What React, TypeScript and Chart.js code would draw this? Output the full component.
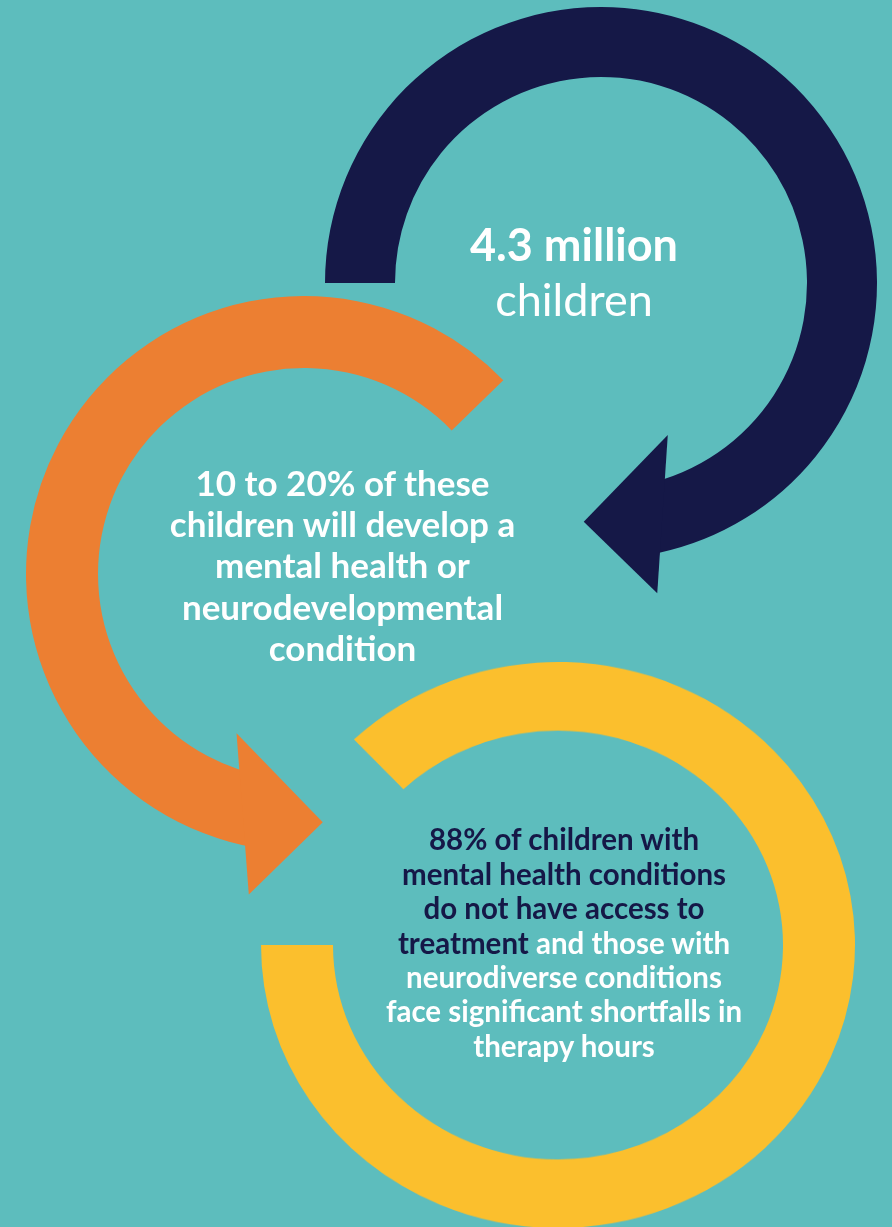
import React, { useEffect, useRef } from "react";
import { Chart, registerables } from "chart.js";

Chart.register(...registerables);

// ---- data ----
const ringLabels = ["4.3 million children", "10 to 20% develop a condition", "88% lack access to treatment"];
const ringSweeps = [258, 215.8, 313.4]; // degrees of each arc
const ringRotations = [270, 190, 316.6]; // start of each arc (deg, 0 = 12 o'clock)
const ringColors = ["#151847", "#EC7F32", "#FBBF2D"];

const navyLines = ["4.3 million", "children"];
const orangeLines = ["10 to 20% of these", "children will develop a", "mental health or", "neurodevelopmental", "condition"];
const yellowNavyLines = ["88% of children with", "mental health conditions", "do not have access to", "treatment"];
const yellowWhiteLines = [" and those with", "neurodiverse conditions", "face significant shortfalls in", "therapy hours"];

const BG = "#5DBDBD";
const NAVY = "#151847";
const FONT = 'Lato, "Open Sans", sans-serif';

type Pt = [number, number];
type ArrowOpts = { at: "start" | "end"; pts: Pt[]; color: string } | null;

const arrowPlugin = {
  id: "arrowHead",
  afterDatasetsDraw(chart: any, _args: any, opts: any) {
    if (!opts || !opts.pts) return;
    const arc: any = chart.getDatasetMeta(0).data[0];
    const { x, y, startAngle, endAngle, innerRadius, outerRadius } = arc.getProps(
      ["x", "y", "startAngle", "endAngle", "innerRadius", "outerRadius"],
      true
    );
    const th = opts.at === "end" ? endAngle : startAngle;
    const rm = (innerRadius + outerRadius) / 2;
    const n: Pt = [Math.cos(th), Math.sin(th)];
    const t: Pt = opts.at === "end" ? [-Math.sin(th), Math.cos(th)] : [Math.sin(th), -Math.cos(th)];
    const ax = x + rm * n[0];
    const ay = y + rm * n[1];
    const ctx = chart.ctx;
    ctx.save();
    ctx.beginPath();
    opts.pts.forEach((p: Pt, i: number) => {
      const px = ax + p[0] * t[0] + p[1] * n[0];
      const py = ay + p[0] * t[1] + p[1] * n[1];
      if (i === 0) ctx.moveTo(px, py);
      else ctx.lineTo(px, py);
    });
    ctx.closePath();
    ctx.fillStyle = opts.color;
    ctx.fill();
    ctx.restore();
  },
};

function Ring(props: {
  idx: number;
  cx: number;
  cy: number;
  outer: number;
  inner: number;
  scaleY?: number;
  arrow: ArrowOpts;
}) {
  const { idx, cx, cy, outer, inner, scaleY, arrow } = props;
  const ref = useRef<HTMLCanvasElement>(null);
  const pad = 60;
  const size = 2 * (outer + pad);
  useEffect(() => {
    const chart = new Chart(ref.current as HTMLCanvasElement, {
      type: "doughnut",
      data: {
        labels: [ringLabels[idx], ""],
        datasets: [
          {
            data: [ringSweeps[idx], 360 - ringSweeps[idx]],
            backgroundColor: [ringColors[idx], "rgba(0,0,0,0)"],
            borderWidth: 0,
            hoverBorderWidth: 0,
            hoverOffset: 0,
          } as any,
        ],
      },
      options: {
        responsive: true,
        maintainAspectRatio: false,
        animation: false,
        events: [],
        rotation: ringRotations[idx],
        circumference: 360,
        cutout: inner,
        layout: { padding: pad },
        plugins: {
          legend: { display: false },
          tooltip: { enabled: false },
          arrowHead: arrow as any,
        } as any,
      },
      plugins: [arrowPlugin],
    });
    return () => chart.destroy();
  }, []);
  return (
    <div
      style={{
        position: "absolute",
        left: cx - size / 2,
        top: cy - size / 2,
        width: size,
        height: size,
        transform: scaleY ? `scaleY(${scaleY})` : undefined,
        transformOrigin: "50% 50%",
      }}
    >
      <canvas ref={ref} />
    </div>
  );
}

function TextBlock(props: {
  cx: number;
  top: number;
  size: number;
  lh: number;
  weight: number;
  children: React.ReactNode;
}) {
  const { cx, top, size, lh, weight, children } = props;
  return (
    <div
      style={{
        position: "absolute",
        left: cx - 300,
        width: 600,
        top,
        textAlign: "center",
        fontFamily: FONT,
        fontSize: size,
        lineHeight: `${lh}px`,
        fontWeight: weight,
        color: "#fff",
        whiteSpace: "nowrap",
        zIndex: 5,
      }}
    >
      {children}
    </div>
  );
}

export default function App() {
  return (
    <div
      style={{
        position: "absolute",
        left: 0,
        top: 0,
        width: 892,
        height: 1227,
        overflow: "hidden",
        background: BG,
      }}
    >
      <Ring
        idx={0}
        cx={600.5}
        cy={283}
        outer={276}
        inner={206}
        arrow={{ at: "end", color: ringColors[0], pts: [[-33.7, -78.4], [66.5, -11.1], [9.5, 74.2]] }}
      />
      <Ring
        idx={1}
        cx={303.5}
        cy={573.5}
        outer={278}
        inner={206}
        arrow={{ at: "start", color: ringColors[1], pts: [[-38.8, -73.5], [61.6, -0.8], [1.3, 83.2]] }}
      />
      <Ring idx={2} cx={558} cy={945} outer={297} inner={225} scaleY={0.953} arrow={null} />

      <TextBlock cx={574} top={216.8} size={45} lh={55} weight={700}>
        <div>{navyLines[0]}</div>
        <div style={{ fontWeight: 400 }}>{navyLines[1]}</div>
      </TextBlock>

      <TextBlock cx={342.5} top={461.8} size={35} lh={41.3} weight={700}>
        {orangeLines.map((l, i) => (
          <div key={i}>{l}</div>
        ))}
      </TextBlock>

      <TextBlock cx={564} top={822.4} size={29.5} lh={34.4} weight={700}>
        <div style={{ color: NAVY }}>{yellowNavyLines[0]}</div>
        <div style={{ color: NAVY }}>{yellowNavyLines[1]}</div>
        <div style={{ color: NAVY }}>{yellowNavyLines[2]}</div>
        <div>
          <span style={{ color: NAVY }}>{yellowNavyLines[3]}</span>
          <span>{yellowWhiteLines[0]}</span>
        </div>
        <div>{yellowWhiteLines[1]}</div>
        <div>{yellowWhiteLines[2]}</div>
        <div>{yellowWhiteLines[3]}</div>
      </TextBlock>
    </div>
  );
}
